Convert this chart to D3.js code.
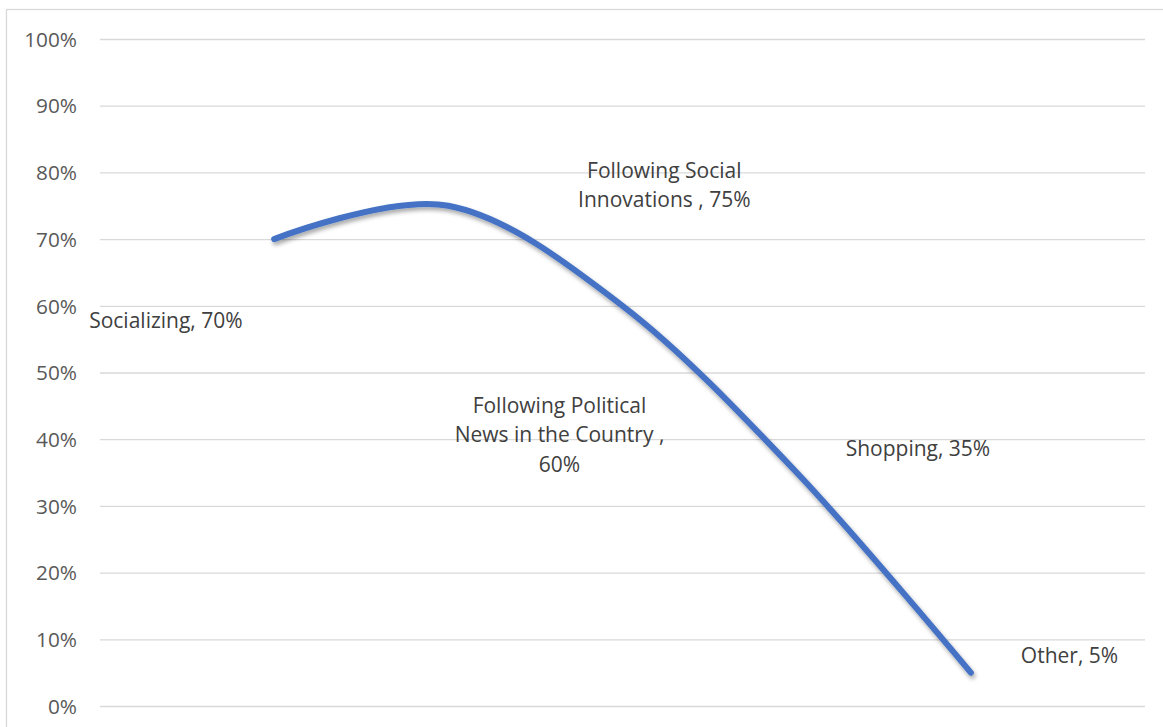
<!DOCTYPE html>
<html>
<head>
<meta charset="utf-8">
<script src="https://cdn.jsdelivr.net/npm/d3@7"></script>
<style>
  html, body { margin: 0; padding: 0; background: #fff; }
  svg { display: block; }
</style>
</head>
<body>
<svg id="chart" width="1163" height="727"></svg>
<script>
// ---- data ----
const categories = ["Socializing", "Following Social Innovations ", "Following Political News in the Country ", "Shopping", "Other"];
const values = [0.70, 0.75, 0.60, 0.35, 0.05];
const yTicks = [0, 0.1, 0.2, 0.3, 0.4, 0.5, 0.6, 0.7, 0.8, 0.9, 1.0];
const labelLines = [
  ["Socializing, 70%"],
  ["Following Social", "Innovations , 75%"],
  ["Following Political", "News in the Country ,", "60%"],
  ["Shopping, 35%"],
  ["Other, 5%"]
];

// ---- layout ----
const W = 1163, H = 727;
const plot = { left: 100, right: 1145, top: 39, bottom: 706 };
const labelLayout = [
  { dx: -185, dy: 89, anchor: "start" },
  { dx: 216, dy: -28, anchor: "middle" },
  { dx: -63, dy: 107, anchor: "middle" },
  { dx: 49, dy: -17, anchor: "start" },
  { dx: 50, dy: -10, anchor: "start" }
];
const lineH = 29.5;
const font = "'Open Sans', 'Noto Sans', sans-serif";

const svg = d3.select("#chart");

// chart frame
svg.append("rect")
  .attr("x", 6.5).attr("y", 9.5)
  .attr("width", 1170).attr("height", 730)
  .attr("fill", "#fff").attr("stroke", "#d9d9d9").attr("stroke-width", 1.3);

const x = d3.scaleLinear().domain([0, categories.length + 1]).range([plot.left, plot.right]);
const y = d3.scaleLinear().domain([0, 1]).range([plot.bottom, plot.top]);

// gridlines + y labels via axis
const yAxis = d3.axisLeft(y)
  .tickValues(yTicks)
  .tickFormat(d3.format(".0%"))
  .tickSize(-(plot.right - plot.left))
  .tickPadding(23);

const gy = svg.append("g")
  .attr("transform", `translate(${plot.left},0)`)
  .call(yAxis);
gy.select(".domain").remove();
gy.selectAll(".tick line").attr("stroke", "#d9d9d9").attr("stroke-width", 1.3);
gy.selectAll(".tick text")
  .attr("fill", "#595959")
  .style("font-family", font)
  .style("font-size", "20.8px")
  .attr("dy", "0.35em");

// shadow filter
const defs = svg.append("defs");
const f = defs.append("filter").attr("id", "shadow")
  .attr("x", "-10%").attr("y", "-10%").attr("width", "120%").attr("height", "130%");
f.append("feDropShadow")
  .attr("dx", 1.5).attr("dy", 3).attr("stdDeviation", 2)
  .attr("flood-color", "#000").attr("flood-opacity", 0.35);

const pts = values.map((v, i) => [x(i + 1), y(v)]);
const line = d3.line().curve(d3.curveCardinal.tension(0));

svg.append("path")
  .attr("d", line(pts))
  .attr("fill", "none")
  .attr("stroke", "#4472C4")
  .attr("stroke-width", 6)
  .attr("stroke-linecap", "round")
  .attr("stroke-linejoin", "round")
  .attr("filter", "url(#shadow)");

// data labels
const lg = svg.append("g");
values.forEach((v, i) => {
  const L = labelLayout[i];
  const t = lg.append("text")
    .attr("x", x(i + 1) + L.dx)
    .attr("y", y(v) + L.dy)
    .attr("text-anchor", L.anchor)
    .attr("fill", "#404040")
    .style("font-family", font)
    .style("font-size", "21px");
  labelLines[i].forEach((s, j) => {
    t.append("tspan")
      .attr("x", x(i + 1) + L.dx)
      .attr("dy", j === 0 ? 0 : lineH)
      .text(s);
  });
});
</script>
</body>
</html>
